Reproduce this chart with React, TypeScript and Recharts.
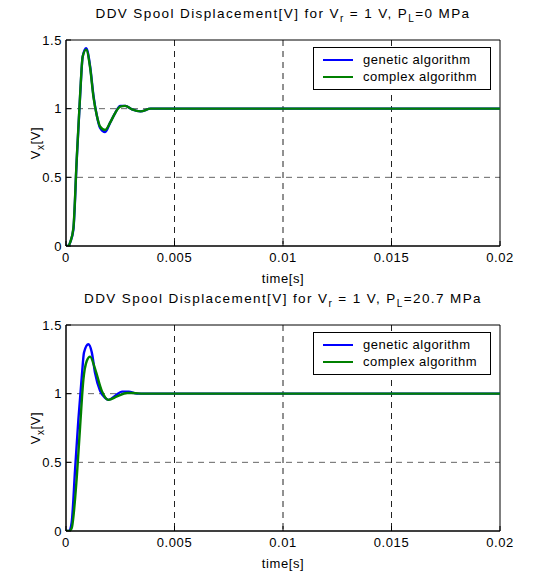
import React from 'react';
import {
  LineChart,
  Line,
  XAxis,
  YAxis,
  CartesianGrid,
  ReferenceArea,
} from 'recharts';

// axis ticks
const timeTicks = [0, 0.005, 0.01, 0.015, 0.02];
const voltTicks = [0, 0.5, 1, 1.5];

// upper panel, P_L = 0 MPa (both curves share the same time samples)
const topTime = [0, 0.0001, 0.0002, 0.00034, 0.00049, 0.00065, 0.00077, 0.00093, 0.00111, 0.00127, 0.00142, 0.00157, 0.0018, 0.00204, 0.00227, 0.0025, 0.00273, 0.00304, 0.00343, 0.0039, 0.005, 0.01, 0.015, 0.02];
const topGenetic = [0, 0, 0.03, 0.12, 0.61, 1.09, 1.38, 1.44, 1.31, 1.09, 0.95, 0.86, 0.83, 0.9, 0.97, 1.02, 1.02, 0.995, 0.98, 1, 1, 1, 1, 1];
const topComplex = [0, 0, 0.03, 0.13, 0.62, 1.1, 1.38, 1.43, 1.3, 1.08, 0.95, 0.87, 0.845, 0.9, 0.97, 1.015, 1.02, 0.995, 0.98, 1, 1, 1, 1, 1];

// lower panel, P_L = 20.7 MPa
const botGeneticTime = [0, 0.00015, 0.00026, 0.00042, 0.00057, 0.00073, 0.00083, 0.00103, 0.00119, 0.00134, 0.00157, 0.0018, 0.00196, 0.00227, 0.00258, 0.00289, 0.00327, 0.005, 0.01, 0.015, 0.02];
const botGenetic = [0, 0, 0.06, 0.45, 0.81, 1.13, 1.3, 1.36, 1.3, 1.15, 1.02, 0.97, 0.955, 0.985, 1.015, 1.015, 1, 1, 1, 1, 1];
const botComplexTime = [0, 0.00015, 0.00026, 0.0005, 0.00065, 0.0008, 0.00096, 0.00111, 0.00134, 0.00165, 0.00196, 0.00235, 0.00281, 0.0031, 0.00355, 0.005, 0.01, 0.015, 0.02];
const botComplex = [0, 0, 0.02, 0.4, 0.76, 1.1, 1.24, 1.27, 1.18, 1.02, 0.955, 0.98, 1.005, 1.005, 1, 1, 1, 1, 1];

const seriesNames = ['genetic algorithm', 'complex algorithm'];
const seriesColors = ['#0000ff', '#008000'];

const FONT = '"Liberation Sans", Arial, sans-serif';

const toPoints = (t: number[], v: number[]) => t.map((x, i) => ({ t: x, v: v[i] }));

const LegendBox = ({ top }: { top: number }) => (
  <div
    style={{
      position: 'absolute',
      top,
      left: 313,
      width: 178,
      boxSizing: 'border-box',
      border: '1px solid #000',
      background: '#fff',
      padding: '3px 6px 4px 9px',
      fontFamily: FONT,
      fontSize: 13,
      letterSpacing: 0.5,
      lineHeight: '17px',
      color: '#000',
      whiteSpace: 'nowrap',
    }}
  >
    {seriesNames.map((n, i) => (
      <div key={n} style={{ display: 'flex', alignItems: 'center' }}>
        <span
          style={{
            display: 'inline-block',
            width: 30,
            height: 2,
            background: seriesColors[i],
            marginRight: 10,
          }}
        />
        {n}
      </div>
    ))}
  </div>
);

const YLabel = (props: any) => {
  const { viewBox } = props;
  const cx = 40;
  const cy = viewBox.y + viewBox.height / 2;
  return (
    <text
      x={cx}
      y={cy}
      transform={`rotate(-90 ${cx} ${cy})`}
      textAnchor="middle"
      fontFamily={FONT}
      fontSize={13}
      letterSpacing={0.6}
      fill="#000"
    >
      V<tspan fontSize={10} dy={4}>x</tspan>
      <tspan dy={-4}>[V]</tspan>
    </text>
  );
};

type PanelProps = {
  pl: string;
  top: number;
  genetic: { t: number; v: number }[];
  complex: { t: number; v: number }[];
};

const Panel = ({ pl, top, genetic, complex }: PanelProps) => (
  <div style={{ position: 'relative', width: 545, height: 287 }}>
    <div
      style={{
        position: 'absolute',
        top: top - 34,
        left: 66,
        width: 434,
        textAlign: 'center',
        fontFamily: FONT,
        fontSize: 13.5,
        letterSpacing: 1.4,
        color: '#000',
        whiteSpace: 'nowrap',
        zIndex: 1,
      }}
    >
      DDV Spool Displacement[V] for V<sub style={{ fontSize: 10 }}>r</sub> = 1 V, P
      <sub style={{ fontSize: 10 }}>L</sub>={pl} MPa
    </div>
    <LineChart
      width={545}
      height={287}
      margin={{ top, right: 45, bottom: 287 - top - 206 - 30, left: 36 }}
      style={{ fontFamily: FONT }}
    >
      <CartesianGrid
        stroke="#666"
        strokeDasharray="6 5"
        vertical={false}
        horizontalValues={[0.5, 1]}
      />
      <CartesianGrid
        stroke="#222"
        strokeDasharray="6 5"
        horizontal={false}
        verticalValues={[0.005, 0.01, 0.015]}
      />
      <XAxis
        dataKey="t"
        type="number"
        domain={[0, 0.02]}
        ticks={timeTicks}
        allowDataOverflow
        tickFormatter={(v: number) => String(v)}
        stroke="#000"
        tickSize={-5}
        tickMargin={12}
        tick={{ fill: '#000', fontSize: 13, letterSpacing: 0.6 }}
        label={{
          value: 'time[s]',
          position: 'insideBottom',
          offset: -7,
          fill: '#000',
          fontSize: 13,
          letterSpacing: 0.6,
        }}
      />
      <YAxis
        dataKey="v"
        type="number"
        domain={[0, 1.5]}
        ticks={voltTicks}
        allowDataOverflow
        width={30}
        stroke="#000"
        tickSize={-5}
        tickMargin={9}
        tick={{ fill: '#000', fontSize: 13, letterSpacing: 0.6 }}
        label={{ content: <YLabel /> }}
      />
      <ReferenceArea x1={0} x2={0.02} y1={0} y2={1.5} fill="none" stroke="#000" strokeWidth={1} />
      <Line
        data={genetic}
        dataKey="v"
        name={seriesNames[0]}
        type="monotone"
        stroke={seriesColors[0]}
        strokeWidth={2.4}
        dot={false}
        isAnimationActive={false}
      />
      <Line
        data={complex}
        dataKey="v"
        name={seriesNames[1]}
        type="monotone"
        stroke={seriesColors[1]}
        strokeWidth={2.4}
        dot={false}
        isAnimationActive={false}
      />
    </LineChart>
    <LegendBox top={top + 7} />
  </div>
);

export default function App() {
  return (
    <div
      style={{
        position: 'absolute',
        top: 0,
        left: 0,
        width: 545,
        height: 574,
        background: '#fff',
      }}
    >
      <Panel
        pl="0"
        top={40}
        genetic={toPoints(topTime, topGenetic)}
        complex={toPoints(topTime, topComplex)}
      />
      <Panel
        pl="20.7"
        top={38}
        genetic={toPoints(botGeneticTime, botGenetic)}
        complex={toPoints(botComplexTime, botComplex)}
      />
    </div>
  );
}
